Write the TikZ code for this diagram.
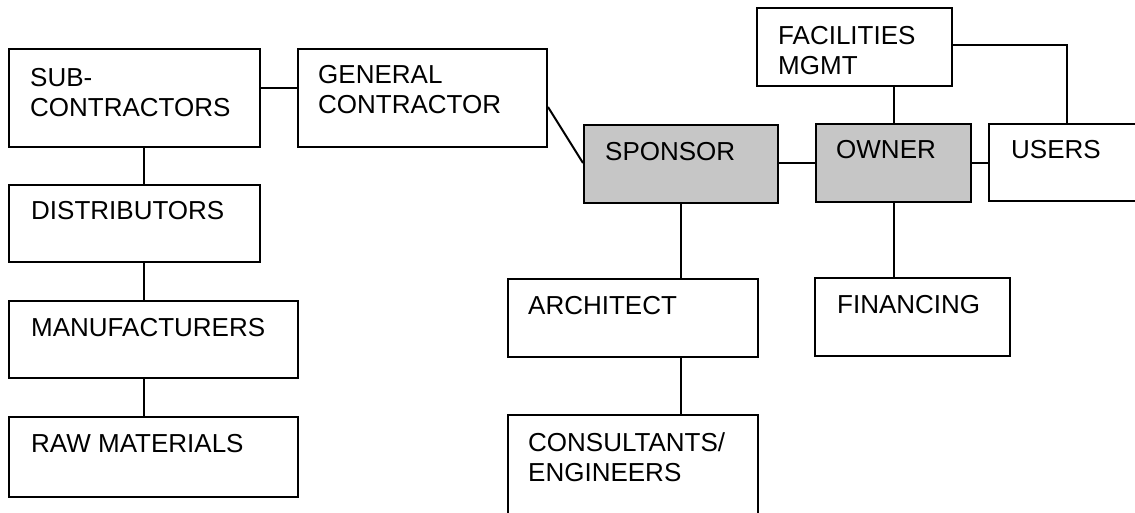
\documentclass[tikz,border=0pt]{standalone}
\usepackage{fontspec}
\setmainfont{Liberation Sans}
\definecolor{boxgray}{RGB}{198,198,198}
\begin{document}
\begin{tikzpicture}[x=1pt,y=-1pt,
  box/.style={draw=black, line width=2pt, fill=white, inner sep=0pt},
  graybox/.style={box, fill=boxgray},
  txt/.style={anchor=base west, inner sep=0pt, align=left,
    font=\fontsize{26pt}{30pt}\selectfont},
  conn/.style={line width=2pt}]
\useasboundingbox[fill=white] (0,0) rectangle (1135,512);
% boxes
\node[box] (sub) at (134.5,98) [minimum width=251pt, minimum height=98pt] {};
\node[box] (gc) at (422.5,98) [minimum width=249pt, minimum height=98pt] {};
\node[box] (dist) at (134.5,223.5) [minimum width=251pt, minimum height=77pt] {};
\node[box] (manu) at (153.5,339.5) [minimum width=289pt, minimum height=77pt] {};
\node[box] (raw) at (153.5,457) [minimum width=289pt, minimum height=80pt] {};
\node[box] (fac) at (854.5,47) [minimum width=195pt, minimum height=78pt] {};
\node[graybox] (spon) at (681,164) [minimum width=194pt, minimum height=78pt] {};
\node[graybox] (own) at (893.5,163) [minimum width=155pt, minimum height=78pt] {};
\node[box] (users) at (1064,162.5) [minimum width=150pt, minimum height=77pt] {};
\node[box] (arch) at (633,318) [minimum width=250pt, minimum height=78pt] {};
\node[box] (fin) at (912.5,317) [minimum width=195pt, minimum height=78pt] {};
\node[box] (cons) at (633,470) [minimum width=250pt, minimum height=110pt] {};
% texts (base anchor = baseline of the last line)
\node[txt] (subT) at ([xshift=22pt,yshift=-68pt]sub.north west) {SUB-\\CONTRACTORS};
\node[txt] (gcT) at ([xshift=21pt,yshift=-65pt]gc.north west) {GENERAL\\CONTRACTOR};
\node[txt] (distT) at ([xshift=23pt,yshift=-35pt]dist.north west) {DISTRIBUTORS};
\node[txt] (manuT) at ([xshift=23pt,yshift=-36pt]manu.north west) {MANUFACTURERS};
\node[txt] (rawT) at ([xshift=23pt,yshift=-36pt]raw.north west) {RAW MATERIALS};
\node[txt] (facT) at ([xshift=22pt,yshift=-67pt]fac.north west) {FACILITIES\\MGMT};
\node[txt] (sponT) at ([xshift=22pt,yshift=-36pt]spon.north west) {SPONSOR};
\node[txt] (ownT) at ([xshift=21pt,yshift=-35pt]own.north west) {OWNER};
\node[txt] (usersT) at ([xshift=23pt,yshift=-35pt]users.north west) {USERS};
\node[txt] (archT) at ([xshift=21pt,yshift=-36pt]arch.north west) {ARCHITECT};
\node[txt] (finT) at ([xshift=23pt,yshift=-36pt]fin.north west) {FINANCING};
\node[txt] (consT) at ([xshift=21pt,yshift=-67pt]cons.north west) {CONSULTANTS/\\ENGINEERS};
% connectors
\draw[conn] (sub.east |- 0,88) -- (gc.west |- 0,88);
\draw[conn] (sub.south -| 144,0) -- (dist.north -| 144,0);
\draw[conn] (dist.south -| 144,0) -- (manu.north -| 144,0);
\draw[conn] (manu.south -| 144,0) -- (raw.north -| 144,0);
\draw[conn] (gc.east |- 0,107) -- (spon.west |- 0,163);
\draw[conn] (spon.east |- 0,163) -- (own.west |- 0,163);
\draw[conn] (own.east |- 0,163) -- (users.west |- 0,163);
\draw[conn] (fac.south -| own.north) -- (own.north);
\draw[conn] (fac.east |- 0,45) -| (users.north -| 1067,0);
\draw[conn] (spon.south) -- (arch.north -| spon.south);
\draw[conn] (arch.south -| 681,0) -- (cons.north -| 681,0);
\draw[conn] (own.south) -- (fin.north -| own.south);
\end{tikzpicture}
\end{document}
